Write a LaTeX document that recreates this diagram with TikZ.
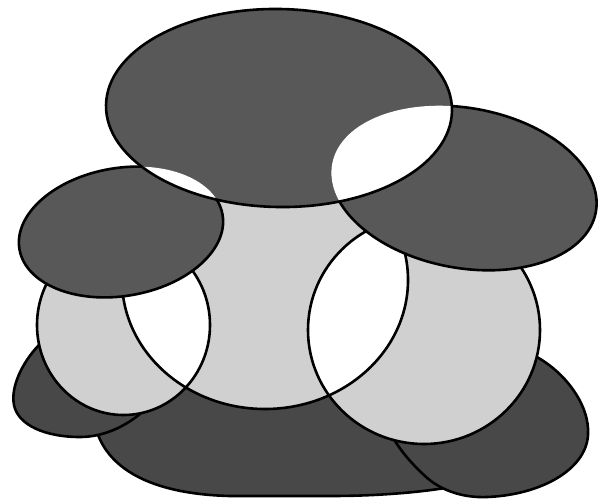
\documentclass[tikz,border=0pt]{standalone}
\definecolor{darktop}{RGB}{88,88,88}
\definecolor{darkbot}{RGB}{72,72,72}
\definecolor{lightc}{RGB}{208,208,208}
\begin{document}
\begin{tikzpicture}[x=0.5pt,y=-0.5pt,
  outl/.style={draw=black, line width=1.3pt},
  rA/.style={rotate around={-1:(279,108)}},
  rB/.style={rotate around={-10.3:(464,188)}},
  rC/.style={rotate around={9.6:(121,232)}}]
\useasboundingbox (0,0) rectangle (599,499);
% ---- bottom layer (dark shapes behind) ----
\filldraw[fill=darkbot, outl] (95,425) .. controls (105,468) and (150,494) .. (230,496)
  -- (330,496) .. controls (380,496) and (420,492) .. (445,488)
  -- (470,470) -- (420,410) -- (330,385) -- (187,378) -- (150,390) -- cycle;
\filldraw[fill=darkbot, outl] (110,370) -- (42,342) .. controls (25,358) and (10,385) .. (14,405)
  .. controls (18,425) and (45,437) .. (80,437) .. controls (105,437) and (130,425) .. (150,405) -- cycle;
\filldraw[fill=darkbot, outl] (480,400) -- (535,356) .. controls (565,372) and (590,405) .. (588,435)
  .. controls (586,470) and (540,495) .. (487,497) .. controls (462,498) and (440,490) .. (425,476)
  .. controls (410,462) and (400,450) .. (392,436) -- cycle;
% ---- middle layer (light circles) ----
\fill[lightc] (265,280) ellipse [x radius=143, y radius=129];
\fill[lightc] (424,330) ellipse [x radius=116, y radius=114];
\fill[lightc] (123.5,325) ellipse [x radius=86.5, y radius=90];
\begin{scope}
  \clip (265,280) ellipse [x radius=143, y radius=129];
  \fill[white] (424,330) ellipse [x radius=116, y radius=114];
  \fill[white] (123.5,325) ellipse [x radius=86.5, y radius=90];
\end{scope}
\draw[outl] (265,280) ellipse [x radius=143, y radius=129];
\draw[outl] (424,330) ellipse [x radius=116, y radius=114];
\draw[outl] (123.5,325) ellipse [x radius=86.5, y radius=90];
% ---- top layer (dark ellipses) ----
\filldraw[fill=darktop, outl, rB] (464,188) ellipse [x radius=134, y radius=80];
\filldraw[fill=darktop, outl, rC] (121,232) ellipse [x radius=103, y radius=64];
\fill[darktop, rA] (279,108) ellipse [x radius=173, y radius=99];
\begin{scope}
  \clip[rA] (279,108) ellipse [x radius=173, y radius=99];
  \fill[white, rB] (464,188) ellipse [x radius=134, y radius=80];
  \fill[white, rC] (121,232) ellipse [x radius=103, y radius=64];
\end{scope}
\draw[outl, rA] (279,108) ellipse [x radius=173, y radius=99];
\end{tikzpicture}
\end{document}
